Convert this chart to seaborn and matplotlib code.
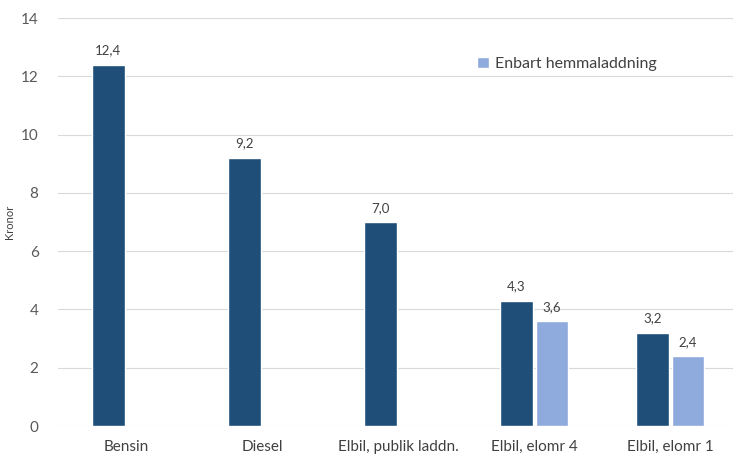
import numpy as np
import pandas as pd
import seaborn as sns
import matplotlib.pyplot as plt

categories = ["Bensin", "Diesel", "Elbil, publik laddn.", "Elbil, elomr 4", "Elbil, elomr 1"]
cost_total = [12.4, 9.2, 7.0, 4.3, 3.2]
cost_home = [np.nan, np.nan, np.nan, 3.6, 2.4]
series = ["Kostnad", "Enbart hemmaladdning"]
colors = ["#1F4E79", "#8FAADC"]

df = pd.DataFrame({
    "kategori": categories * 2,
    "kronor": cost_total + cost_home,
    "serie": [series[0]] * 5 + [series[1]] * 5,
})

sns.set_style("white")
plt.rcParams["font.family"] = ["Lato", "DejaVu Sans"]

fig = plt.figure(figsize=(7.33, 4.54), dpi=100)
ax = fig.add_axes([58 / 733, 28 / 454, 675 / 733, 408 / 454])

sns.barplot(data=df, x="kategori", y="kronor", hue="serie", palette=colors,
            width=0.52, gap=0.08, ax=ax, saturation=1, legend=True)

for c in ax.containers:
    ax.bar_label(c, fmt=lambda v: f"{v:.1f}".replace(".", ","), padding=6,
                 fontsize=9.5, color="#404040")

ax.set_ylim(0, 14)
ax.set_yticks(range(0, 15, 2))
ax.set_xlim(-0.5, 4.46)
ax.yaxis.grid(True, color="#D9D9D9", linewidth=0.8)
ax.set_axisbelow(True)
for s in ax.spines.values():
    s.set_visible(False)
ax.tick_params(axis="y", length=0, labelsize=11, labelcolor="#595959", pad=14)
ax.tick_params(axis="x", length=0, labelsize=11, labelcolor="#404040", pad=10)
ax.set_xlabel("")
ax.set_ylabel("Kronor", fontsize=8, color="#404040")
ax.yaxis.set_label_coords(-0.064, 0.5)

handles, labels = ax.get_legend_handles_labels()
ax.legend([handles[1]], [labels[1]], loc="upper left", bbox_to_anchor=(0.6, 0.94),
          frameon=False, fontsize=11.5, handlelength=0.7, handleheight=0.7,
          handletextpad=0.4, labelcolor="#404040")

fig.savefig("out.png", dpi=100)
